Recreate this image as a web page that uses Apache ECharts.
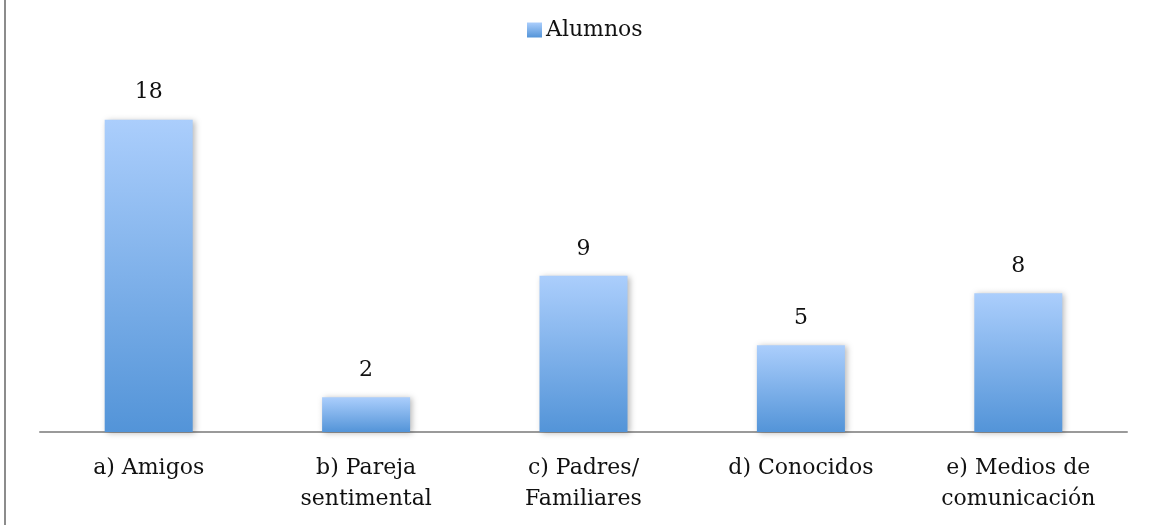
<!DOCTYPE html>
<html>
<head>
<meta charset="utf-8">
<script src="https://cdn.jsdelivr.net/npm/echarts@6/dist/echarts.min.js"></script>
<style>
  html, body { margin: 0; padding: 0; background: #fff; }
  #chart { width: 1151px; height: 525px; }
</style>
</head>
<body>
<div id="chart"></div>
<script>
// Categories and counts of students per answer
const categories = ['a) Amigos', 'b) Pareja\nsentimental', 'c) Padres/\nFamiliares', 'd) Conocidos', 'e) Medios de\ncomunicación'];
const alumnos = [18, 2, 9, 5, 8];
const seriesName = 'Alumnos';

const FONT = '"DejaVu Serif", "Liberation Serif", serif';

const barGradient = new echarts.graphic.LinearGradient(0, 0, 0, 1, [
  { offset: 0, color: '#abcefc' },
  { offset: 1, color: '#5394d8' }
]);

const chart = echarts.init(document.getElementById('chart'), null, { renderer: 'canvas' });
chart.setOption({
  animation: false,
  backgroundColor: '#ffffff',
  textStyle: { fontFamily: FONT },
  graphic: [{
    type: 'rect',
    shape: { x: 4, y: 0, width: 2, height: 525 },
    style: { fill: '#8c8c8c' },
    silent: true
  }],
  legend: {
    data: [{ name: seriesName, icon: 'rect' }],
    left: 522,
    top: 14,
    itemWidth: 15,
    itemHeight: 15,
    itemGap: 5,
    textStyle: { fontFamily: FONT, fontSize: 22, color: '#111', padding: [0, 0, 0, -1] }
  },
  grid: { left: 40, right: 24, top: 85, bottom: 93, containLabel: false },
  xAxis: {
    type: 'category',
    data: categories,
    axisLine: { lineStyle: { color: '#9a9a9a', width: 2 } },
    axisTick: { show: false },
    axisLabel: {
      interval: 0,
      margin: 21,
      fontFamily: FONT,
      fontSize: 22,
      lineHeight: 31,
      color: '#111',
      align: 'center'
    }
  },
  yAxis: {
    type: 'value',
    min: 0,
    max: 20,
    interval: 5,
    show: false,
    splitLine: { show: false }
  },
  series: [{
    name: seriesName,
    type: 'bar',
    data: alumnos,
    barWidth: 88,
    itemStyle: {
      color: barGradient,
      shadowBlur: 6,
      shadowColor: 'rgba(0,0,0,0.28)',
      shadowOffsetX: 2,
      shadowOffsetY: 1
    },
    label: {
      show: true,
      position: 'top',
      distance: 16,
      fontFamily: FONT,
      fontSize: 22,
      color: '#111'
    }
  }]
});
</script>
</body>
</html>
